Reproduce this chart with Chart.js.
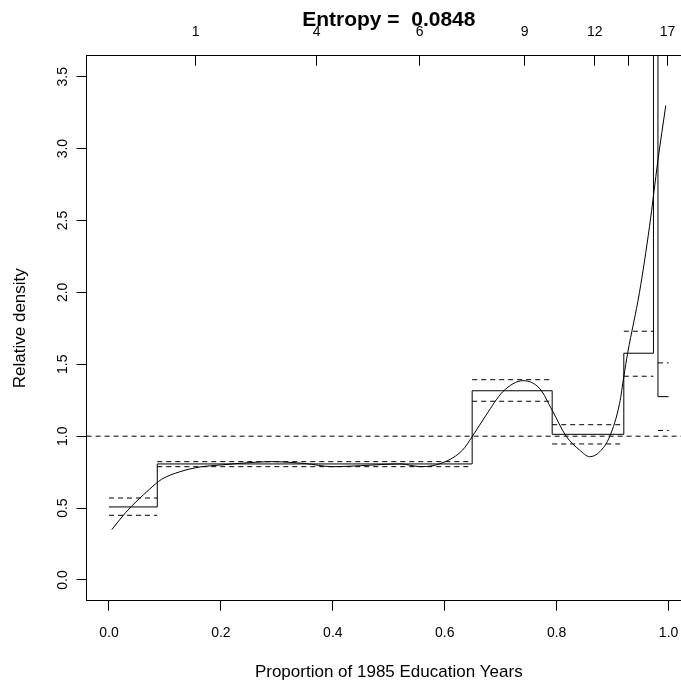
<!DOCTYPE html>
<html>
<head>
<meta charset="utf-8">
<script src="https://cdn.jsdelivr.net/npm/chart.js@4.4.0/dist/chart.umd.min.js"></script>
<style>
  html, body { margin: 0; padding: 0; overflow: hidden; background: #fff; }
  canvas { display: block; }
</style>
</head>
<body>
<canvas id="myChart" width="681" height="684"></canvas>
<script>
// relative density histogram: bin edges on the proportion scale
const binEdges   = [0, 0.0863, 0.649, 0.792, 0.920, 0.973, 0.981, 1.0];
const relDensity = [0.508, 0.807, 1.316, 1.013, 1.577, 5.5, 1.275];
const upperBand  = [0.57, 0.823, 1.393, 1.08, 1.73, 8.0, 1.51];
const lowerBand  = [0.45, 0.788, 1.243, 0.946, 1.417, 3.8, 1.04];

// smoothed relative density
const smoothX = [0.005, 0.03, 0.05, 0.073, 0.094, 0.127, 0.1625, 0.2, 0.25, 0.29, 0.35, 0.40, 0.45, 0.52,
                 0.558, 0.597, 0.632, 0.649, 0.674, 0.704, 0.74, 0.77, 0.792, 0.817, 0.841, 0.859, 0.877,
                 0.895, 0.9125, 0.920, 0.927, 0.948, 0.966, 0.981, 0.995];
const smoothY = [0.35, 0.47, 0.55, 0.633, 0.70, 0.753, 0.786, 0.80, 0.816, 0.823, 0.81, 0.788, 0.795, 0.807,
                 0.788, 0.816, 0.904, 0.997, 1.147, 1.31, 1.386, 1.33, 1.18, 1.0, 0.904, 0.857, 0.892,
                 1.0, 1.229, 1.414, 1.58, 2.0, 2.46, 2.92, 3.30];

const refLevel = 1;

// axes
const xTicks = [0, 0.2, 0.4, 0.6, 0.8, 1.0];
const yTicks = [0, 0.5, 1.0, 1.5, 2.0, 2.5, 3.0, 3.5];
const topTickPos    = [0.155, 0.371, 0.555, 0.743, 0.868, 0.928, 0.998];
const topTickLabels = ['1', '4', '6', '9', '12', '', '17'];

const xMin = -0.04, xMax = 1.0222;
const yMin = -0.144, yMax = 3.646;

const FONT = "'Liberation Sans', Arial, Helvetica, sans-serif";
const ink = '#000';

// build datasets
const stepPts = binEdges.map((x, i) => ({ x: x, y: i < relDensity.length ? relDensity[i] : relDensity[relDensity.length - 1] }));

function bandPts(vals) {
  const out = [];
  vals.forEach((v, i) => {
    out.push({ x: binEdges[i], y: v });
    out.push({ x: binEdges[i + 1], y: v });
    out.push({ x: binEdges[i + 1], y: null });
  });
  return out;
}

const smoothPts = smoothX.map((x, i) => ({ x: x, y: smoothY[i] }));

const line = { borderColor: ink, borderWidth: 1, pointRadius: 0, fill: false };

const data = {
  datasets: [
    Object.assign({ label: 'reference', data: [{ x: xMin, y: refLevel }, { x: xMax, y: refLevel }], borderDash: [5, 4] }, line),
    Object.assign({ label: 'upper', data: bandPts(upperBand), borderDash: [5, 4], spanGaps: false }, line),
    Object.assign({ label: 'lower', data: bandPts(lowerBand), borderDash: [5, 4], spanGaps: false }, line),
    Object.assign({ label: 'histogram', data: stepPts, stepped: 'before' }, line),
    Object.assign({ label: 'smooth', data: smoothPts, cubicInterpolationMode: 'monotone' }, line)
  ]
};

const tickFont = { family: FONT, size: 14 };
const labFont = { family: FONT, size: 17 };

// fixed box sizes so the plot region sits where the R device put it
function fixBox(w, h) {
  return s => {
    if (w !== null) s.width = w;
    if (h !== null) s.height = h;
    s.paddingLeft = 0; s.paddingRight = 0; s.paddingTop = 0; s.paddingBottom = 0;
  };
}

// the R plot region runs ~10px past the right edge of the picture;
// centre the main title and the x title on that wider region
const titleShift = {
  id: 'titleShift',
  afterLayout(chart) {
    if (chart.titleBlock) chart.titleBlock.right += 10;
    chart.scales.x.right += 10;
  }
};

const config = {
  type: 'line',
  data,
  plugins: [titleShift],
  options: {
    responsive: false,
    animation: false,
    events: [],
    layout: { padding: 0, autoPadding: false },
    plugins: {
      legend: { display: false },
      tooltip: { enabled: false },
      title: {
        display: true,
        fullSize: false,
        text: 'Entropy =  0.0848',
        color: ink,
        font: { family: FONT, size: 21, weight: 'bold' },
        padding: { top: 7.5, bottom: -19.7 }
      }
    },
    scales: {
      x: {
        type: 'linear', position: 'bottom', min: xMin, max: xMax,
        afterBuildTicks: s => { s.ticks = xTicks.map(v => ({ value: v })); },
        afterFit: fixBox(null, 83.3),
        ticks: { callback: v => v.toFixed(1), font: tickFont, color: ink, padding: 14, maxRotation: 0, autoSkip: false },
        grid: { drawOnChartArea: false, drawTicks: true, tickLength: 10, tickColor: ink, tickWidth: 1 },
        border: { display: true, color: ink, width: 1 },
        title: { display: true, text: 'Proportion of 1985 Education Years', color: ink, font: labFont, padding: { top: 0, bottom: 1 } }
      },
      xTop: {
        type: 'linear', position: 'top', min: xMin, max: xMax,
        afterBuildTicks: s => { s.ticks = topTickPos.map(v => ({ value: v })); },
        afterFit: fixBox(null, 55.7 - 13),
        ticks: { callback: (v, i) => topTickLabels[i], font: tickFont, color: ink, padding: 25.3, maxRotation: 0, autoSkip: false },
        grid: { drawOnChartArea: false, drawTicks: true, tickLength: -10, tickColor: ink, tickWidth: 1 },
        border: { display: true, color: ink, width: 1 }
      },
      y: {
        type: 'linear', position: 'left', min: yMin, max: yMax,
        afterBuildTicks: s => { s.ticks = yTicks.map(v => ({ value: v })); },
        afterFit: fixBox(86.6, null),
        ticks: { callback: v => v.toFixed(1), font: tickFont, color: ink, padding: 4, minRotation: 90, maxRotation: 90, crossAlign: 'center', autoSkip: false },
        grid: { drawOnChartArea: false, drawTicks: true, tickLength: 10, tickColor: ink, tickWidth: 1 },
        border: { display: true, color: ink, width: 1 },
        title: { display: true, text: 'Relative density', color: ink, font: labFont, padding: { top: 10, bottom: 0 } }
      }
    }
  }
};

const myChart = new Chart(document.getElementById('myChart'), config);
</script>
</body>
</html>
